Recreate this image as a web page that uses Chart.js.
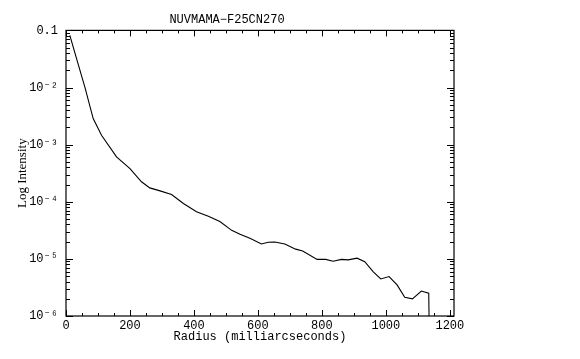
<!DOCTYPE html>
<html>
<head>
<meta charset="utf-8">
<script src="https://cdn.jsdelivr.net/npm/chart.js@4/dist/chart.umd.min.js"></script>
<style>
  html, body { margin: 0; padding: 0; background: #fff; }
  #wrap { width: 580px; height: 359px; }
</style>
</head>
<body>
<div id="wrap"><canvas id="c" width="580" height="359"></canvas></div>
<script>
// Data
const radius = [12, 33, 59, 85, 111, 158, 200, 236, 262, 294, 330, 367, 408, 445, 481, 518, 544, 575, 611, 632, 653, 684, 718, 740, 785, 812, 835, 861, 882, 910, 934, 960, 984, 1010, 1035, 1059, 1083, 1111, 1134, 1135];
const intensity = [0.082, 0.032, 0.0102, 0.00286, 0.00146, 6.1e-4, 3.8e-4, 2.24e-4, 1.75e-4, 1.55e-4, 1.34e-4, 9.3e-5, 6.7e-5, 5.6e-5, 4.5e-5, 3.16e-5, 2.7e-5, 2.29e-5, 1.82e-5, 1.95e-5, 1.97e-5, 1.82e-5, 1.48e-5, 1.37e-5, 9.8e-6, 9.8e-6, 9.1e-6, 9.8e-6, 9.6e-6, 1.03e-5, 8.9e-6, 5.96e-6, 4.46e-6, 4.9e-6, 3.5e-6, 2.13e-6, 2.0e-6, 2.74e-6, 2.5e-6, 1e-6];
const yTickValues = [1e-6, 1e-5, 1e-4, 1e-3, 1e-2, 1e-1];
const yTickLabels = ['10\u207B\u2076', '10\u207B\u2075', '10\u207B\u2074', '10\u207B\u00B3', '10\u207B\u00B2', '0.1'];
const xTickValues = [0, 200, 400, 600, 800, 1000, 1200];
const titleText = 'NUVMAMA\u2212F25CN270';
const xTitle = 'Radius (milliarcseconds)';
const yTitle = 'Log Intensity';

const points = radius.map((r, i) => ({ x: r, y: intensity[i] }));
const monoFont = "'Liberation Mono', 'DejaVu Sans Mono', monospace";

const frameTicks = {
  id: 'frameTicks',
  afterDatasetsDraw(chart) {
    const { ctx, chartArea: a, scales: { x, y } } = chart;
    ctx.save();
    ctx.strokeStyle = '#000';
    ctx.lineWidth = 1.2;
    ctx.strokeRect(a.left, a.top, a.right - a.left, a.bottom - a.top);
    ctx.lineWidth = 1;
    ctx.beginPath();
    // x ticks every 50, major every 200
    for (let v = 0; v <= x.max; v += 50) {
      const px = Math.round(x.getPixelForValue(v)) + 0.5;
      const len = (v % 200 === 0) ? 6 : 3;
      ctx.moveTo(px, a.bottom); ctx.lineTo(px, a.bottom - len);
      ctx.moveTo(px, a.top); ctx.lineTo(px, a.top + len);
    }
    // y ticks: decades major, 2..9 minor
    for (let d = -6; d <= -1; d++) {
      const base = Math.pow(10, d);
      const pyM = Math.round(y.getPixelForValue(base)) + 0.5;
      ctx.moveTo(a.left, pyM); ctx.lineTo(a.left + 7, pyM);
      ctx.moveTo(a.right, pyM); ctx.lineTo(a.right - 7, pyM);
      if (d === -1) continue;
      for (let k = 2; k <= 9; k++) {
        const py = Math.round(y.getPixelForValue(k * base)) + 0.5;
        ctx.moveTo(a.left, py); ctx.lineTo(a.left + 4, py);
        ctx.moveTo(a.right, py); ctx.lineTo(a.right - 4, py);
      }
    }
    ctx.stroke();
    ctx.restore();
  }
};

new Chart(document.getElementById('c'), {
  type: 'line',
  data: {
    datasets: [{
      data: points,
      borderColor: '#000',
      borderWidth: 1.1,
      pointRadius: 0,
      tension: 0,
      fill: false
    }]
  },
  options: {
    responsive: false,
    animation: false,
    events: [],
    layout: { padding: { left: 0, right: 126, top: 0, bottom: 0 } },
    plugins: {
      legend: { display: false },
      tooltip: { enabled: false },
      title: {
        display: true,
        text: titleText,
        color: '#000',
        font: { family: monoFont, size: 12, weight: 'normal' },
        padding: { top: 13, bottom: 3 }
      }
    },
    scales: {
      x: {
        type: 'linear',
        min: 0,
        max: 1213,
        afterBuildTicks(s) { s.ticks = xTickValues.map(v => ({ value: v })); },
        afterFit(s) { s.height = 43; },
        grid: { display: false, drawTicks: false },
        border: { display: false },
        ticks: {
          color: '#000',
          font: { family: monoFont, size: 12 },
          padding: 3,
          maxRotation: 0,
          autoSkip: false,
          callback: (v) => String(v)
        },
        title: {
          display: true,
          text: xTitle,
          color: '#000',
          font: { family: monoFont, size: 12 },
          padding: { top: 0, bottom: 15 }
        }
      },
      y: {
        type: 'logarithmic',
        min: 1e-6,
        max: 0.1,
        afterBuildTicks(s) { s.ticks = yTickValues.map(v => ({ value: v })); },
        afterFit(s) { s.width = 66; },
        grid: { display: false, drawTicks: false },
        border: { display: false },
        ticks: {
          color: '#000',
          font: { family: monoFont, size: 12 },
          padding: 8,
          autoSkip: false,
          callback: (v) => {
            const i = yTickValues.findIndex(t => Math.abs(Math.log10(t) - Math.log10(v)) < 1e-6);
            return i >= 0 ? yTickLabels[i] : '';
          }
        },
        title: {
          display: true,
          text: yTitle,
          color: '#000',
          font: { family: "'Liberation Serif', 'DejaVu Serif', serif", size: 13 },
          padding: { top: 15, bottom: 0 }
        }
      }
    }
  },
  plugins: [frameTicks]
});
</script>
</body>
</html>
